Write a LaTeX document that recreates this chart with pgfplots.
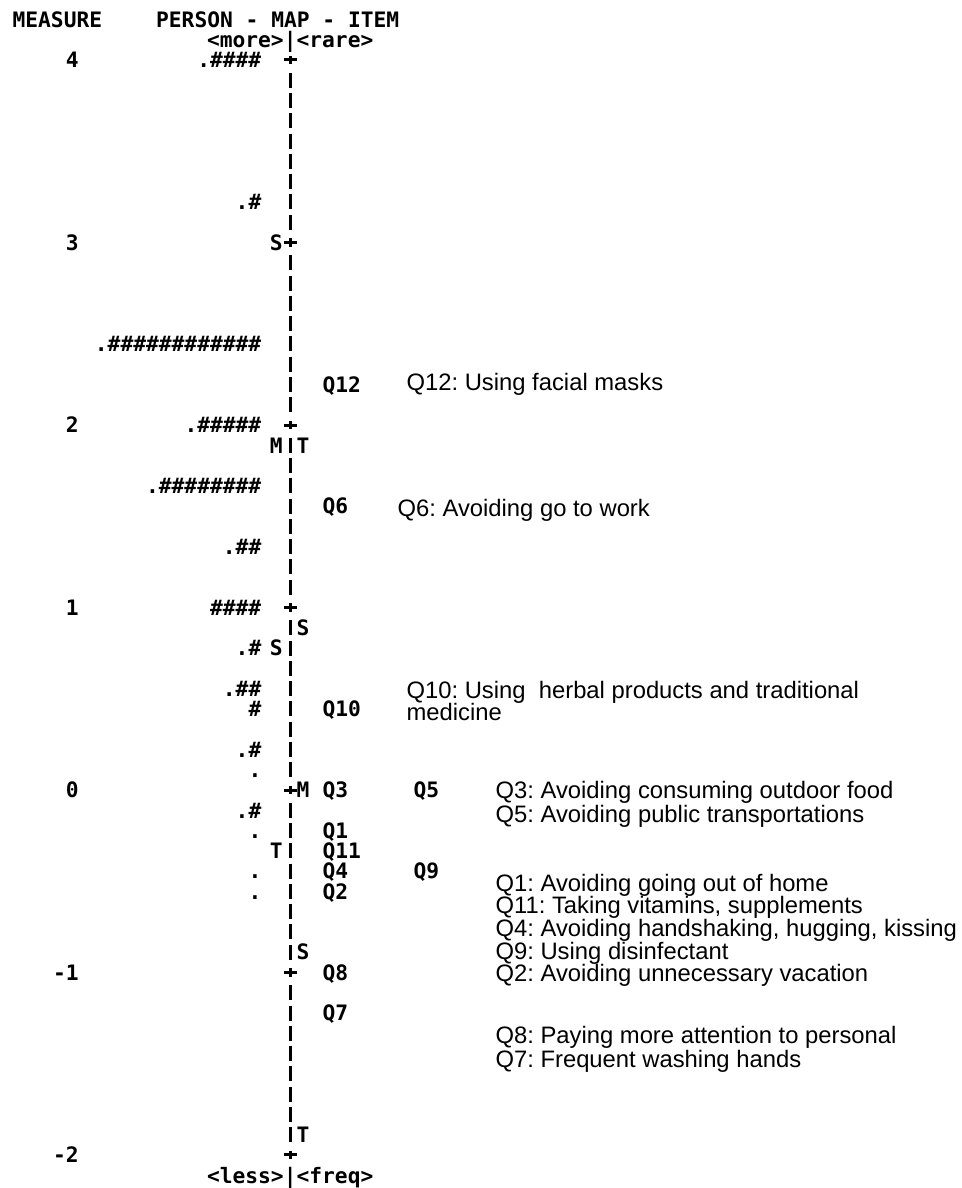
\documentclass[border=0pt]{standalone}
\usepackage{fontspec}
\setmainfont{Liberation Sans}
\newfontfamily\monof{DejaVu Sans Mono}
\usepackage{pgfplots}
\pgfplotsset{compat=1.18}
\usepackage{pgfplotstable}
\frenchspacing

% one text row of the map every 1/9 logit: row r sits at measure 4 - r/9
\pgfplotstableread{
r s
0 .\#\#\#\#
7 .\#
14 .\#\#\#\#\#\#\#\#\#\#\#\#
18 .\#\#\#\#\#
21 .\#\#\#\#\#\#\#\#
24 .\#\#
27 \#\#\#\#
29 .\#
31 .\#\#
32 \#
34 .\#
35 .
37 .\#
38 .
40 .
41 .
}\persons

% M, S, T markers of the person distribution
\pgfplotstableread{
r s
9 S
19 M
29 S
39 T
}\personstats

% M, S, T markers of the item distribution
\pgfplotstableread{
r s
19 T
28 S
36 M
44 S
53 T
}\itemstats

\pgfplotstableread{
r s
16 Q12
22 Q6
32 Q10
36 Q3
38 Q1
39 Q11
40 Q4
41 Q2
45 Q8
47 Q7
}\items

\pgfplotstableread{
r s
36 Q5
40 Q9
}\itemsright

% rows of the centre column: | between the integer rows, + on them
\pgfplotstableread{
r c
1 |
2 |
3 |
4 |
5 |
6 |
7 |
8 |
10 |
11 |
12 |
13 |
14 |
15 |
16 |
17 |
19 |
20 |
21 |
22 |
23 |
24 |
25 |
26 |
28 |
29 |
30 |
31 |
32 |
33 |
34 |
35 |
37 |
38 |
39 |
40 |
41 |
42 |
43 |
44 |
46 |
47 |
48 |
49 |
50 |
51 |
52 |
53 |
}\bars

\pgfplotstableread{
r c
0 +
9 +
18 +
27 +
36 +
45 +
54 +
}\pluses

\tikzset{
  mono/.style={font=\monof\bfseries\fontsize{10.63}{12}\selectfont,
    text height=7.75pt, text depth=0pt, inner sep=0pt},
  desc/.style={font=\fontsize{11.9}{13}\selectfont,
    text height=8.52pt, text depth=0pt, inner sep=0pt},
}

\begin{document}
\begin{tikzpicture}
\begin{axis}[
  width=480.5pt, height=594pt, scale only axis,
  xmin=0, xmax=961, ymin=-2.1808, ymax=4.3288,
  axis line style={draw=none}, major tick length=0pt,
  xtick=\empty,
  ytick={-2,-1,0,1,2,3,4},
  yticklabels={-2,-1,0,1,2,3,4},
  yticklabel style={mono, anchor=east, xshift=39.4pt},
  clip=false,
]
% centre column
\addplot[only marks, mark=|, mark size=3.75pt, line width=1.6pt, black]
  table[x expr=290, y expr=4-\thisrow{r}/9] {\bars};
\addplot[only marks, mark=+, mark size=3.2pt, line width=1.5pt, black,
  mark options={yscale=0.65}]
  table[x expr=290, y expr=4-\thisrow{r}/9] {\pluses};

% persons
\addplot[draw=none, mark=none, nodes near coords, point meta=explicit symbolic,
  every node near coord/.append style={mono, anchor=east}]
  table[x expr=261.5, y expr=4-\thisrow{r}/9, meta=s] {\persons};
\addplot[draw=none, mark=none, nodes near coords, point meta=explicit symbolic,
  every node near coord/.append style={mono, anchor=center}]
  table[x expr=276, y expr=4-\thisrow{r}/9, meta=s] {\personstats};
\addplot[draw=none, mark=none, nodes near coords, point meta=explicit symbolic,
  every node near coord/.append style={mono, anchor=center}]
  table[x expr=302.8, y expr=4-\thisrow{r}/9, meta=s] {\itemstats};

% items
\addplot[draw=none, mark=none, nodes near coords, point meta=explicit symbolic,
  every node near coord/.append style={mono, anchor=west}]
  table[x expr=322, y expr=4-\thisrow{r}/9, meta=s] {\items};
\addplot[draw=none, mark=none, nodes near coords, point meta=explicit symbolic,
  every node near coord/.append style={mono, anchor=west}]
  table[x expr=413, y expr=4-\thisrow{r}/9, meta=s] {\itemsright};

% header and footer rows
\addplot[draw=none, mark=none, nodes near coords, point meta=explicit symbolic,
  every node near coord/.append style={mono, anchor=center}]
  coordinates {(277.5,4.2222) [PERSON - MAP - ITEM]
               (290,4.1111) [<more>|<rare>]
               (290,-2.1111) [<less>|<freq>]};
\addplot[draw=none, mark=none, nodes near coords, point meta=explicit symbolic,
  every node near coord/.append style={mono, anchor=west}]
  coordinates {(12,4.2222) [MEASURE]};

% item descriptions
\addplot[draw=none, mark=none, nodes near coords, point meta=explicit symbolic,
  every node near coord/.append style={desc, anchor=west}]
  coordinates {
    (406,2.236) [Q12: Using facial masks]
    (397,1.545) [Q6: Avoiding go to work]
    (406,0.548) [Q10: Using~ herbal products and traditional]
    (406,0.427) [medicine]
    (495,0.000) [Q3: Avoiding consuming outdoor food]
    (495,-0.132) [Q5: Avoiding public transportations]
    (495,-0.510) [Q1: Avoiding going out of home]
    (495,-0.630) [Q11: Taking vitamins, supplements]
    (495,-0.756) [Q4: Avoiding handshaking, hugging, kissing]
    (495,-0.882) [Q9: Using disinfectant]
    (495,-1.003) [Q2: Avoiding unnecessary vacation]
    (495,-1.342) [Q8: Paying more attention to personal]
    (495,-1.474) [Q7: Frequent washing hands]
  };
\end{axis}
\end{tikzpicture}
\end{document}
